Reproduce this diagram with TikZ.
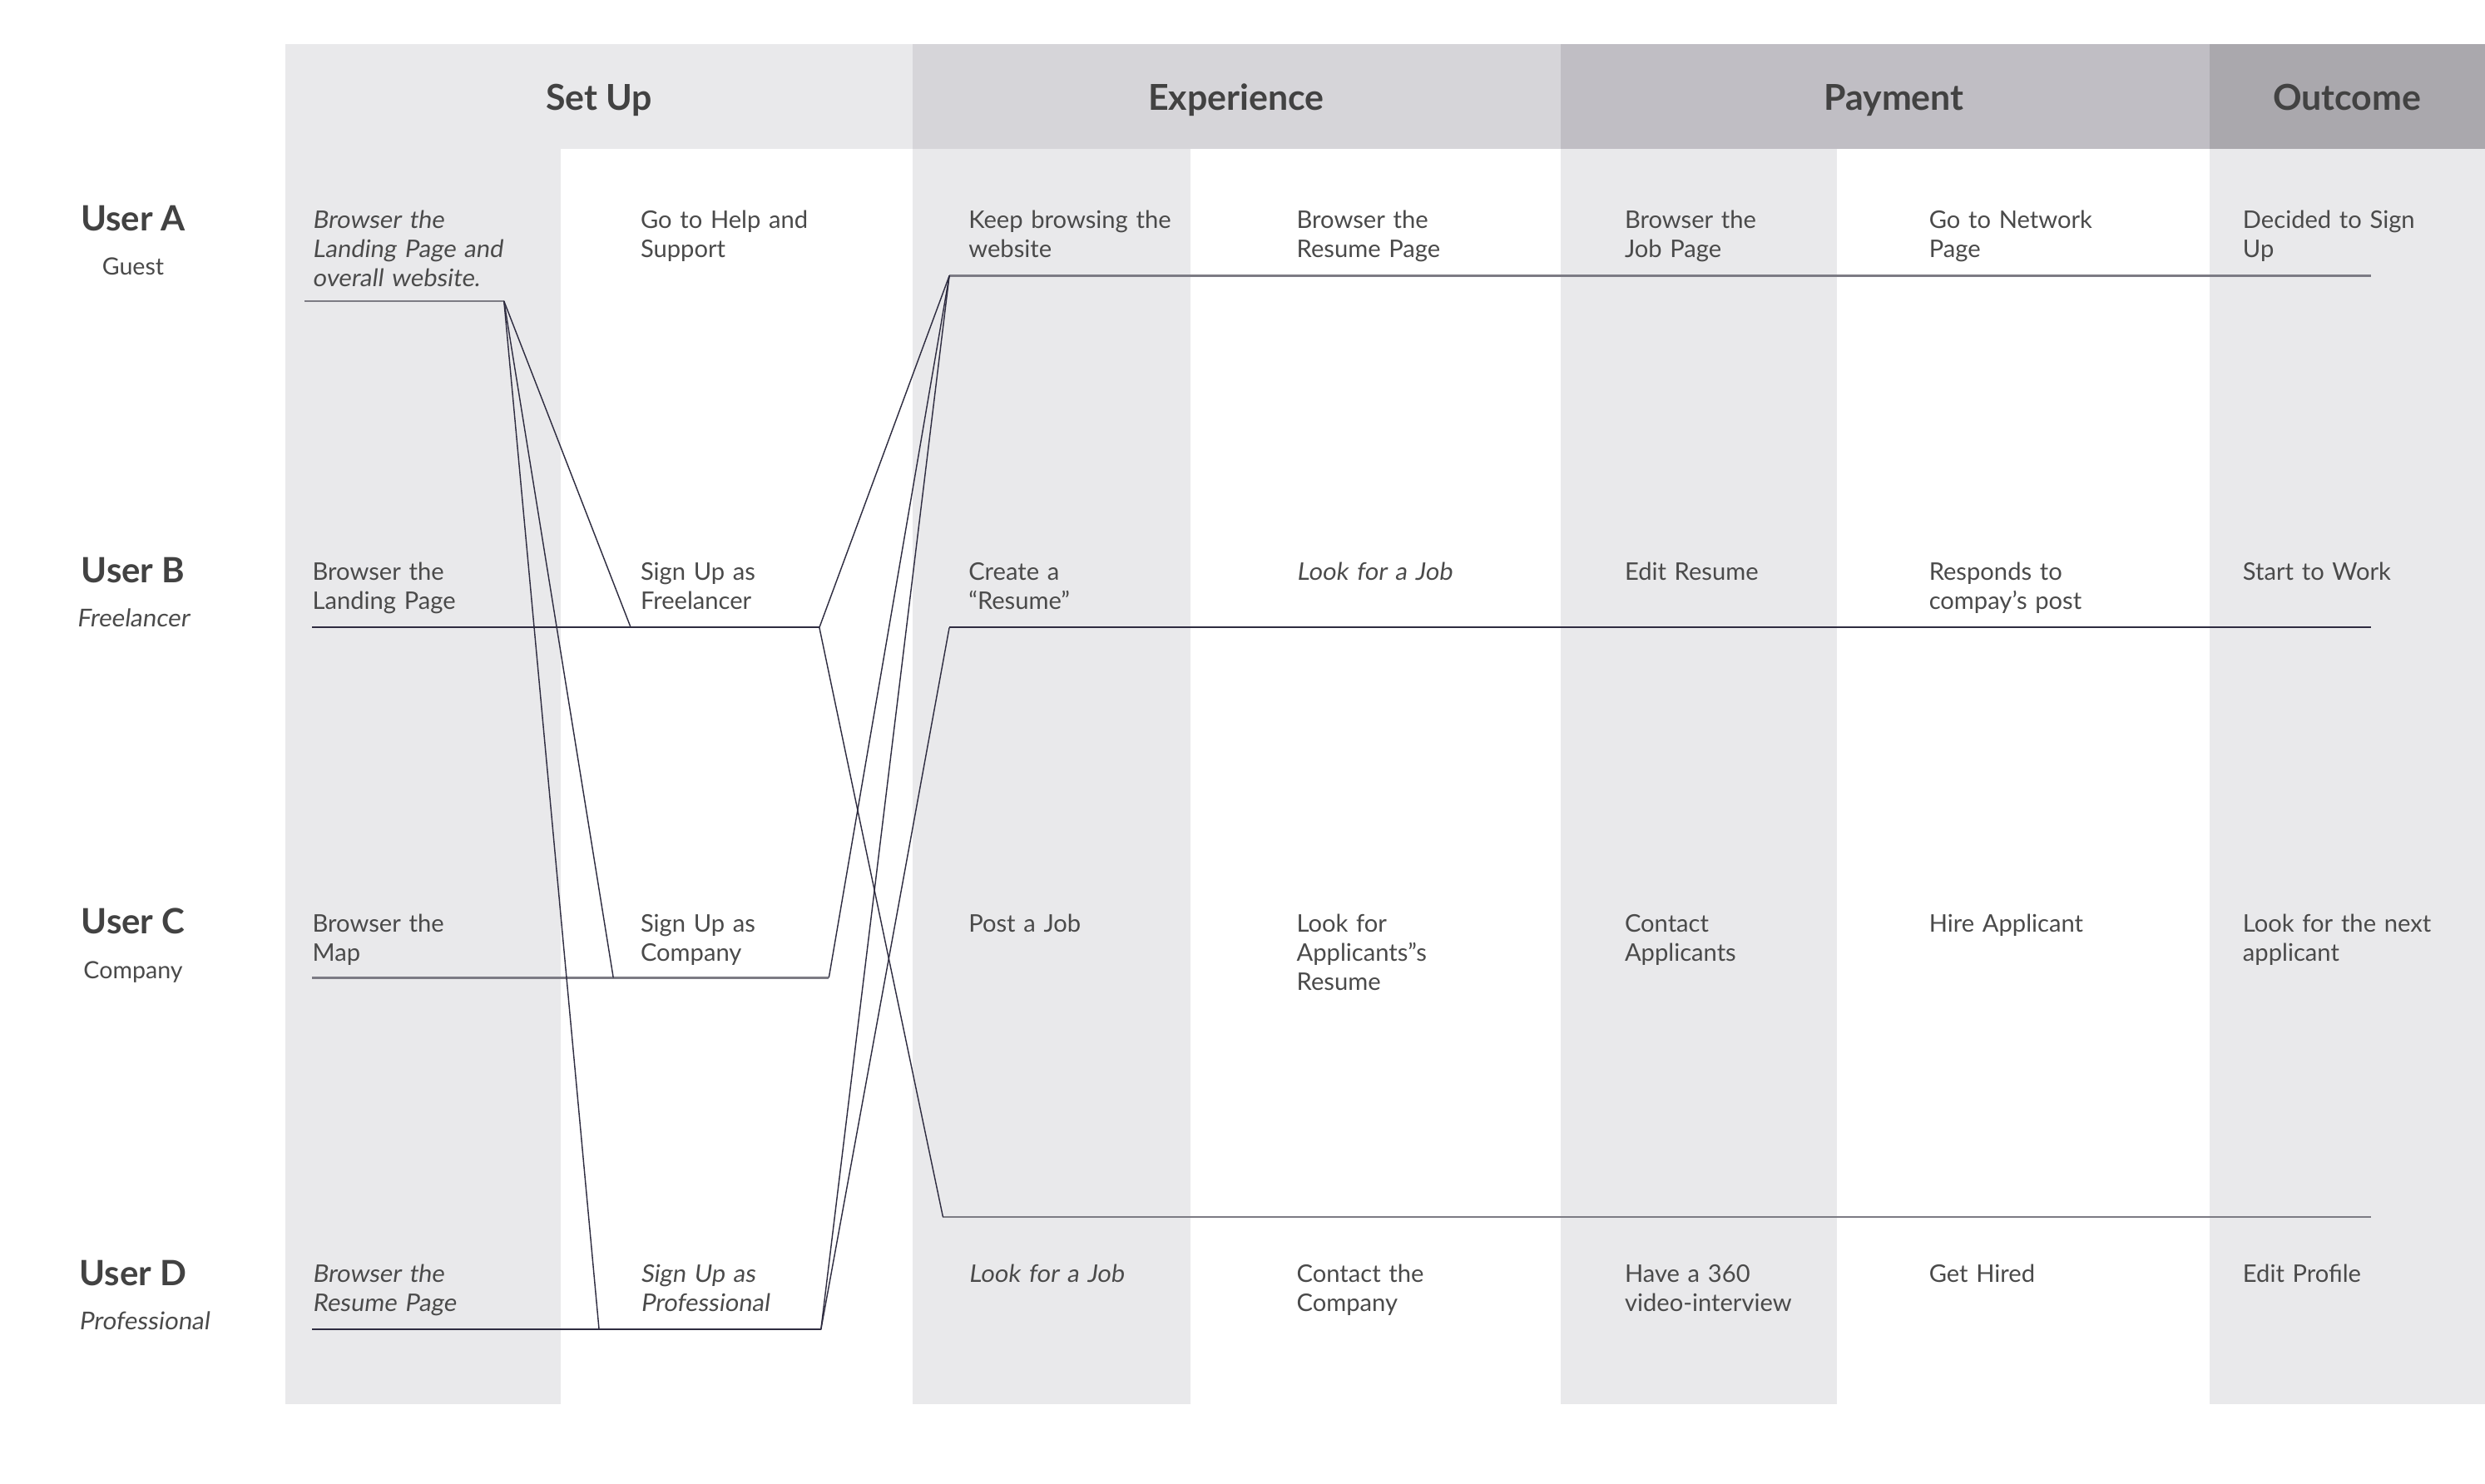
\documentclass[tikz,border=0pt]{standalone}
\usepackage{fontspec}
\setmainfont{Lato}
\newfontfamily\slfont[FakeSlant=0.13]{Lato}
\definecolor{colgray}{HTML}{E9E9EB}
\definecolor{hdexp}{HTML}{D6D5D9}
\definecolor{hdpay}{HTML}{C0BEC4}
\definecolor{hdout}{HTML}{AAA8AD}
\definecolor{txt}{HTML}{4A4A4A}
\definecolor{hdtxt}{HTML}{424242}
\definecolor{glight}{HTML}{7C7B84}
\definecolor{gdark}{HTML}{2E2C40}
\begin{document}
\begin{tikzpicture}[x=1pt,y=-1pt,
  band/.style={fill=colgray,draw=none},
  cell/.style={anchor=base west,align=left,text width=175pt,inner sep=0pt,
    font=\fontsize{15.3}{18.4}\selectfont,text=txt},
  icell/.style={cell,font=\fontsize{15.3}{18.4}\selectfont\slfont},
  rowlab/.style={anchor=base,inner sep=0pt,font=\fontsize{22}{26}\selectfont\bfseries,text=hdtxt},
  sublab/.style={anchor=base,inner sep=0pt,font=\fontsize{15}{18}\selectfont,text=txt},
  isublab/.style={sublab,font=\fontsize{15.5}{18}\selectfont\slfont},
  head/.style={anchor=base,inner sep=0pt,font=\fontsize{22.5}{27}\selectfont\bfseries,text=hdtxt},
  hline/.style={draw=glight,line width=1.4pt},
  dline/.style={draw=gdark,line width=1pt},
  diag/.style={draw=gdark,line width=0.75pt}]
\useasboundingbox (0,0) rectangle (1568,936);
\fill[white] (0,0) rectangle (1568,936);
% column bands
\fill[band] (180,28) rectangle (354,886);
\fill[band] (576,94) rectangle (751,886);
\fill[band] (985,94) rectangle (1159,886);
\fill[band] (1394,94) rectangle (1568,886);
% header bands
\fill[colgray] (180,28) rectangle (576,94);
\fill[hdexp] (576,28) rectangle (985,94);
\fill[hdpay] (985,28) rectangle (1394,94);
\fill[hdout] (1394,28) rectangle (1568,94);
% headers
\node[head] (hsetup) at (378,69.8) {Set Up};
\node[head] (hexp) at (780,69.8) {Experience};
\node[head] (hpay) at (1195,69.8) {Payment};
\node[head] (hout) at (1481,69.8) {Outcome};
% row labels
\node[rowlab] (ua) at (84,145.5) {User A};
\node[sublab] (uag) at (84,173.6) {Guest};
\node[rowlab] (ub) at (84,367.5) {User B};
\node[isublab] (ubf) at (84,395.6) {Freelancer};
\node[rowlab] (uc) at (84,589.5) {User C};
\node[sublab] (ucc) at (84,617.6) {Company};
\node[rowlab] (ud) at (84,811.5) {User D};
\node[isublab] (udp) at (91,839) {Professional};
% coordinates for connectors
\coordinate (a1s) at (192,190);
\coordinate (a1e) at (318,190);
\coordinate (b1s) at (197,396);
\coordinate (b2s) at (398,396);
\coordinate (b2e) at (517,396);
\coordinate (c1s) at (197,617);
\coordinate (c2s) at (387,617);
\coordinate (c2e) at (523,617);
\coordinate (d1s) at (197,839);
\coordinate (d2s) at (378,839);
\coordinate (d2e) at (518,839);
\coordinate (a3s) at (599,174);
\coordinate (a3e) at (1496,174);
\coordinate (b3s) at (599,396);
\coordinate (b3e) at (1496,396);
\coordinate (d3s) at (595,768);
\coordinate (d3e) at (1496,768);
% horizontal lines
\draw[hline] (a1s) -- (a1e);
\draw[hline] (a3s) -- (a3e);
\draw[dline] (b1s) -- (b2s) -- (b2e);
\draw[dline] (b3s) -- (b3e);
\draw[hline] (c1s) -- (c2s) -- (c2e);
\draw[dline] (d1s) -- (d2s) -- (d2e);
\draw[hline] (d3s) -- (d3e);
% diagonals
\draw[diag] (a1e) -- (b2s);
\draw[diag] (a1e) -- (c2s);
\draw[diag] (a1e) -- (d2s);
\draw[diag] (b2e) -- (a3s);
\draw[diag] (b2e) -- (d3s);
\draw[diag] (c2e) -- (a3s);
\draw[diag] (d2e) -- (a3s);
\draw[diag] (d2e) -- (b3s);
% row A cells
\node[icell] (a1) at (197,144) {Browser the\\Landing Page and\\overall website.};
\node[cell] (a2) at (404,144) {Go to Help and\\Support};
\node[cell] (a3) at (611,144) {Keep browsing the\\website};
\node[cell] (a4) at (818,144) {Browser the\\Resume Page};
\node[cell] (a5) at (1025,144) {Browser the\\Job Page};
\node[cell] (a6) at (1217,144) {Go to Network\\Page};
\node[cell] (a7) at (1415,144) {Decided to Sign\\Up};
% row B cells
\node[cell] (b1) at (197,366) {Browser the\\Landing Page};
\node[cell] (b2) at (404,366) {Sign Up as\\Freelancer};
\node[cell] (b3) at (611,366) {Create a\\“Resume”};
\node[icell] (b4) at (818,366) {Look for a Job};
\node[cell] (b5) at (1025,366) {Edit Resume};
\node[cell] (b6) at (1217,366) {Responds to\\compay’s post};
\node[cell] (b7) at (1415,366) {Start to Work};
% row C cells
\node[cell] (c1) at (197,588) {Browser the\\Map};
\node[cell] (c2) at (404,588) {Sign Up as\\Company};
\node[cell] (c3) at (611,588) {Post a Job};
\node[cell] (c4) at (818,588) {Look for\\Applicants”s\\Resume};
\node[cell] (c5) at (1025,588) {Contact\\Applicants};
\node[cell] (c6) at (1217,588) {Hire Applicant};
\node[cell] (c7) at (1415,588) {Look for the next\\applicant};
% row D cells
\node[icell] (d1) at (197,809) {Browser the\\Resume Page};
\node[icell] (d2) at (404,809) {Sign Up as\\Professional};
\node[icell] (d3) at (611,809) {Look for a Job};
\node[cell] (d4) at (818,809) {Contact the\\Company};
\node[cell] (d5) at (1025,809) {Have a 360\\video-interview};
\node[cell] (d6) at (1217,809) {Get Hired};
\node[cell] (d7) at (1415,809) {Edit Profile};
\end{tikzpicture}
\end{document}
